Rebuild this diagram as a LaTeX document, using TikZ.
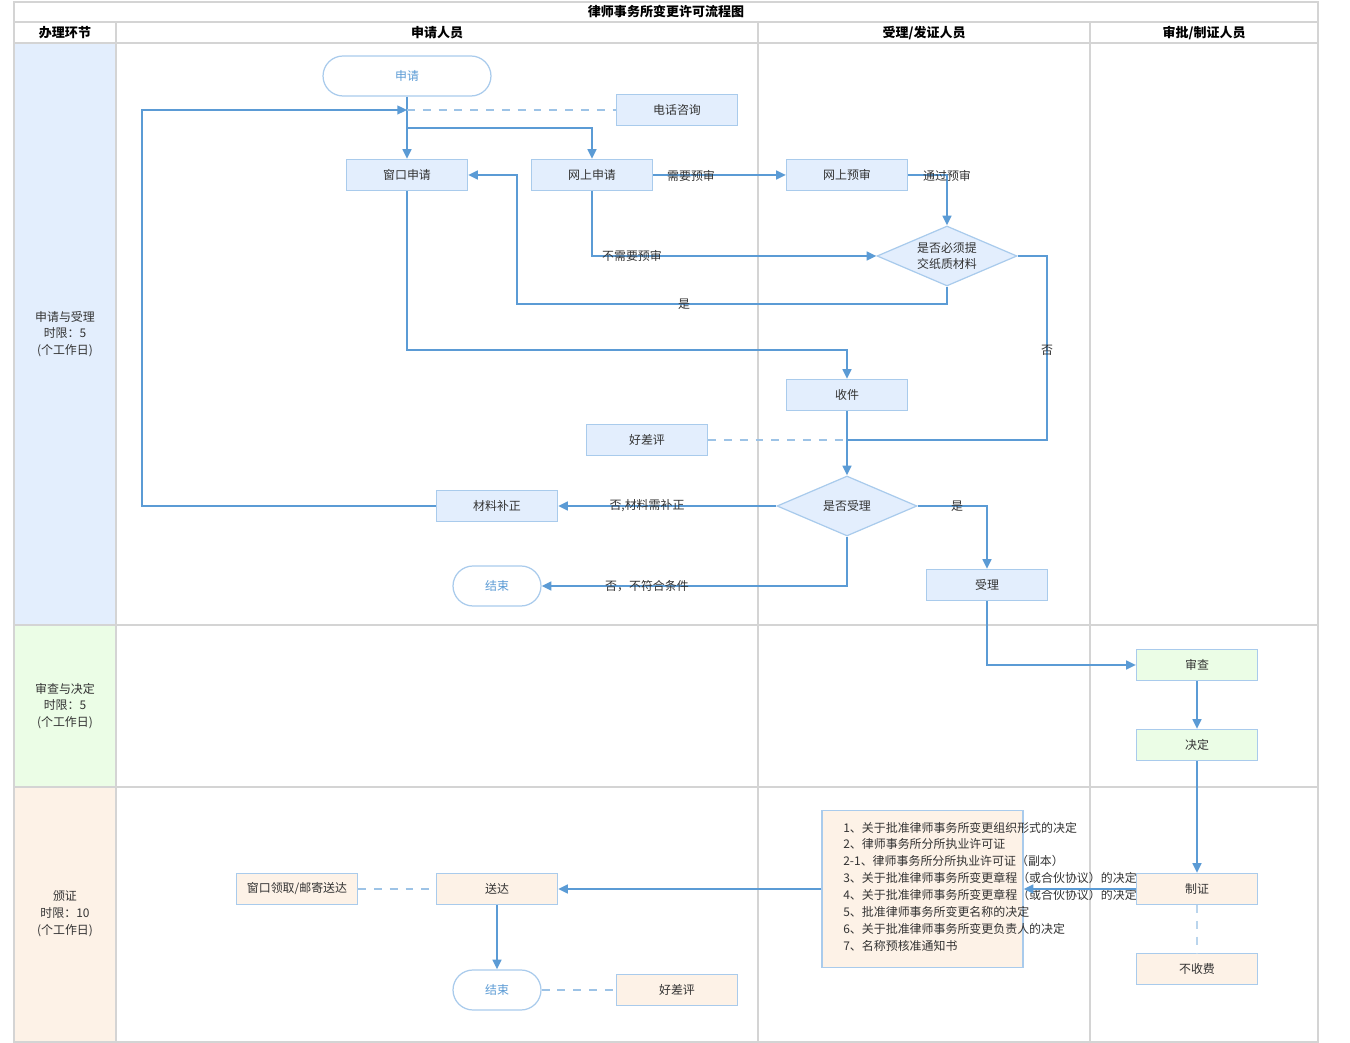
\documentclass[tikz,border=0pt]{standalone}
\usepackage{fontspec}
\setmainfont{Noto Sans CJK SC}
\usetikzlibrary{arrows.meta,shapes.geometric}
\definecolor{lineblue}{HTML}{5B9BD5}
\definecolor{dashblue}{HTML}{9DC3E6}
\definecolor{boxborder}{HTML}{A9CBEC}
\definecolor{bluefill}{HTML}{E3EEFD}
\definecolor{greenfill}{HTML}{EBFDE6}
\definecolor{orangefill}{HTML}{FDF2E7}
\definecolor{gridgray}{HTML}{D4D4D4}
\definecolor{txt}{HTML}{333333}
\newcommand\nodefont{\fontsize{6.8}{9.6}\selectfont}
\newcommand\headfont{\fontsize{7.4}{9}\selectfont\bfseries}
\begin{document}
\begin{tikzpicture}[x=0.02cm,y=-0.02cm,
  box/.style={draw=boxborder, line width=0.7pt, fill=#1, minimum width=2.42cm, minimum height=0.62cm, inner sep=0pt, font=\nodefont, text=txt},
  box/.default=bluefill,
  term/.style={draw=boxborder, line width=0.7pt, fill=white, rounded corners=0.4cm, minimum height=0.8cm, inner sep=0pt, font=\nodefont, text=lineblue},
  dec/.style={diamond, draw=boxborder, line width=0.7pt, fill=bluefill, minimum width=2.8cm, minimum height=1.2cm, inner sep=0pt, align=center, font=\nodefont, text=txt},
  flow/.style={draw=lineblue, line width=1.1pt, -{Triangle[length=5.5pt,width=5pt]}},
  plainflow/.style={draw=lineblue, line width=1.1pt},
  dashline/.style={draw=dashblue, line width=1pt, dash pattern=on 4.5pt off 4.5pt},
  lbl/.style={font=\nodefont, text=txt, inner sep=0pt},
  grid/.style={draw=gridgray, line width=1.1pt},
  lane/.style={font=\nodefont, text=txt, align=center, inner sep=0pt},
  head/.style={font=\headfont, text=black, inner sep=0pt}
]
\useasboundingbox (0,0) rectangle (1350,1043);
% lane fills
\fill[bluefill] (14,43) rectangle (116,625);
\fill[greenfill] (14,625) rectangle (116,787);
\fill[orangefill] (14,787) rectangle (116,1042);
% grid
\draw[grid] (14,2) rectangle (1318,1042);
\draw[grid] (14,22) -- (1318,22);
\draw[grid] (14,43) -- (1318,43);
\draw[grid] (14,625) -- (1318,625);
\draw[grid] (14,787) -- (1318,787);
\draw[grid] (116,22) -- (116,1042);
\draw[grid] (758,22) -- (758,1042);
\draw[grid] (1090,22) -- (1090,1042);
% headers
\node[head] (title) at (666,12) {律师事务所变更许可流程图};
\node[head] (h1) at (65,33) {办理环节};
\node[head] (h2) at (437,33) {申请人员};
\node[head] (h3) at (924,33) {受理/发证人员};
\node[head] (h4) at (1204,33) {审批/制证人员};
\node[lane] (l1) at (65,334) {申请与受理\\时限：5\\(个工作日)};
\node[lane] (l2) at (65,706) {审查与决定\\时限：5\\(个工作日)};
\node[lane] (l3) at (65,914) {颁证\\时限：10\\(个工作日)};
% nodes
\node[term, minimum width=3.36cm] (shenqing) at (407,76) {申请};
\node[box] (dianhua) at (677,110) {电话咨询};
\node[box] (chuangkou) at (407,175) {窗口申请};
\node[box] (wangshang) at (592,175) {网上申请};
\node[box] (yushen) at (847,175) {网上预审};
\node[dec] (bixu) at (947,256) {};
\node[lbl, align=center] (bixutext) at (947,256) {是否必须提\\交纸质材料};
\node[box] (shoujian) at (847,395) {收件};
\node[box] (haocha1) at (647,440) {好差评};
\node[dec] (shouliq) at (847,506) {是否受理};
\node[box] (buzheng) at (497,506) {材料补正};
\node[term, minimum width=1.76cm] (end1) at (497,586) {结束};
\node[box] (shouli) at (987,585) {受理};
\node[box=greenfill] (shencha) at (1197,665) {审查};
\node[box=greenfill] (jueding) at (1197,745) {决定};
\node[box=orangefill, minimum width=4.02cm, minimum height=3.14cm] (docs) at (922.5,889) {};
\node[lbl, anchor=west, align=left] (doctext) at (843,886.5) {1、关于批准律师事务所变更组织形式的决定\\2、律师事务所分所执业许可证\\2-1、律师事务所分所执业许可证（副本）\\3、关于批准律师事务所变更章程（或合伙协议）的决定\\4、关于批准律师事务所变更章程（或合伙协议）的决定\\5、批准律师事务所变更名称的决定\\6、关于批准律师事务所变更负责人的决定\\7、名称预核准通知书};
\node[box=orangefill] (zhizheng) at (1197,889) {制证};
\node[box=orangefill] (bushoufei) at (1197,969) {不收费};
\node[box=orangefill] (songda) at (497,889) {送达};
\node[box=orangefill] (lingqu) at (297,889) {窗口领取/邮寄送达};
\node[term, minimum width=1.76cm] (end2) at (497,990) {结束};
\node[box=orangefill] (haocha2) at (677,990) {好差评};
% coordinates
\coordinate (loopin) at (407,110);
\coordinate (br) at (407,128);
\coordinate (join) at (847,440);
% connectors
\draw[flow] (shenqing.south) -- (chuangkou.north);
\draw[flow] (br) -| (wangshang.north);
\draw[flow] (buzheng.west) -- (142,506) -- (142,110) -- (loopin);
\draw[dashline] (loopin) -- (dianhua.west);
\draw[flow] (wangshang.east) -- (yushen.west);
\node[lbl] (t1) at (691,176) {需要预审};
\draw[flow] (yushen.east) -| (bixu.north);
\node[lbl] (t2) at (947,176) {通过预审};
\draw[flow] (wangshang.south) |- (bixu.west);
\node[lbl] (t3) at (632,256) {不需要预审};
\draw[flow] (bixu.south) -- (947,304) -- (517,304) |- (chuangkou.east);
\node[lbl] (t4) at (684,304) {是};
\draw[plainflow] (bixu.east) -- (1047,256) |- (join);
\node[lbl] (t5) at (1047,350) {否};
\draw[flow] (chuangkou.south) -- (407,350) -| (shoujian.north);
\draw[flow] (shoujian.south) -- (shouliq.north);
\draw[dashline] (haocha1.east) -- (join);
\draw[flow] (shouliq.west) -- (buzheng.east);
\node[lbl] (t6) at (647,506) {否,材料需补正};
\draw[flow] (shouliq.east) -| (shouli.north);
\node[lbl] (t7) at (957,506) {是};
\draw[flow] (shouliq.south) |- (end1.east);
\node[lbl] (t8) at (647,586) {否，不符合条件};
\draw[flow] (shouli.south) |- (shencha.west);
\draw[flow] (shencha.south) -- (jueding.north);
\draw[flow] (jueding.south) -- (zhizheng.north);
\draw[flow] (zhizheng.west) -- (docs.east);
\draw[flow] (docs.west) -- (songda.east);
\draw[dashline] (lingqu.east) -- (songda.west);
\draw[flow] (songda.south) -- (end2.north);
\draw[dashline] (end2.east) -- (haocha2.west);
\draw[dashline, draw=dashblue!70] (zhizheng.south) -- (bushoufei.north);
\end{tikzpicture}
\end{document}
